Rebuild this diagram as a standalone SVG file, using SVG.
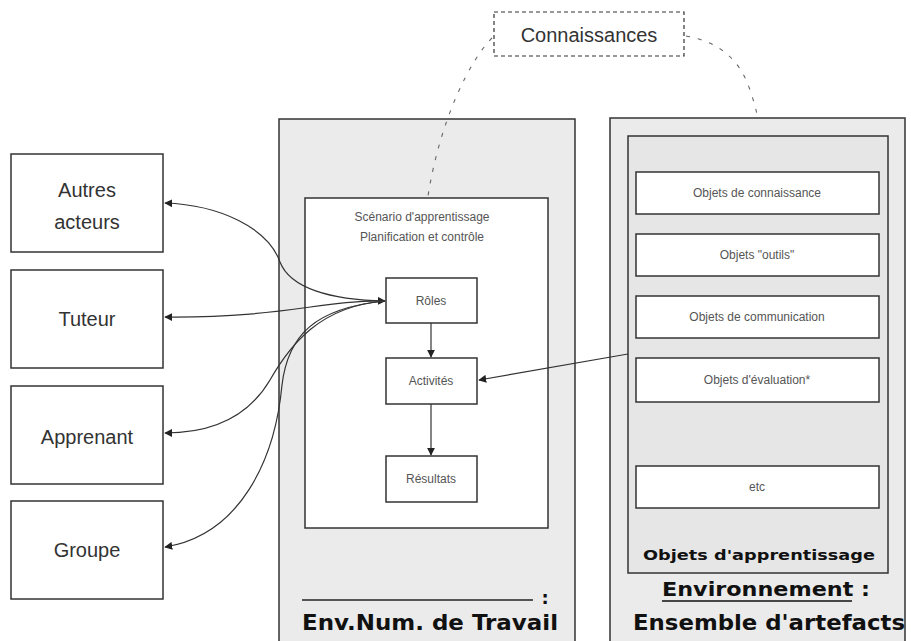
<svg xmlns="http://www.w3.org/2000/svg" width="911" height="641" viewBox="0 0 911 641">
<defs>
  <style>
    .box{fill:#fff;stroke:#333;stroke-width:1.5}
    .big{font-family:"Liberation Sans",Arial,sans-serif;font-size:20px;fill:#333;text-anchor:middle}
    .small{font-family:"Liberation Sans",Arial,sans-serif;font-size:12px;fill:#555;text-anchor:middle}
    .bold{font-family:"DejaVu Sans",Verdana,sans-serif;font-weight:bold;fill:#111;text-anchor:middle}
    .conn{fill:none;stroke:#333;stroke-width:1.2}
    .dash{fill:none;stroke:#666;stroke-width:1.1;stroke-dasharray:4 8}
  </style>
  <marker id="ah" viewBox="0 0 10 10" refX="9" refY="5" markerWidth="8" markerHeight="8" orient="auto-start-reverse" markerUnits="userSpaceOnUse">
    <path d="M0,0 L10,5 L0,10 z" fill="#222"/>
  </marker>
</defs>
<rect width="911" height="641" fill="#fff"/>

<g id="env-num">
  <rect x="279" y="119" width="296" height="530" fill="#ebebeb" stroke="#333" stroke-width="1.5"/>
  <line x1="302" y1="600" x2="533" y2="600" stroke="#222" stroke-width="1.5"/>
  <text x="545" y="604" class="bold" font-size="18">:</text>
  <text x="430" y="630" class="bold" font-size="22" textLength="256" lengthAdjust="spacingAndGlyphs">Env.Num. de Travail</text>
</g>

<g id="scenario">
  <rect x="305" y="198" width="243" height="330" class="box"/>
  <text x="422" y="221" class="small">Scénario d'apprentissage</text>
  <text x="422" y="241" class="small">Planification et contrôle</text>
</g>

<g id="roles"><rect x="386" y="278" width="91" height="45" class="box"/><text x="431" y="305" class="small">Rôles</text></g>
<g id="activites"><rect x="386" y="358" width="91" height="46" class="box"/><text x="431" y="385" class="small">Activités</text></g>
<g id="resultats"><rect x="386" y="456" width="91" height="46" class="box"/><text x="431" y="483" class="small">Résultats</text></g>

<g id="environnement">
  <rect x="610" y="118" width="295" height="531" fill="#ebebeb" stroke="#333" stroke-width="1.5"/>
  <rect x="628" y="136" width="260" height="437" fill="#e6e6e6" stroke="#333" stroke-width="1.5"/>
  <text x="759" y="560" class="bold" font-size="14" textLength="232" lengthAdjust="spacingAndGlyphs">Objets d'apprentissage</text>
  <text x="766" y="596" class="bold" font-size="20" textLength="208" lengthAdjust="spacingAndGlyphs">Environnement :</text>
  <line x1="662" y1="601" x2="852" y2="601" stroke="#111" stroke-width="1.5"/>
  <text x="769" y="630" class="bold" font-size="21" textLength="272" lengthAdjust="spacingAndGlyphs">Ensemble d'artefacts</text>
</g>

<g id="obj-connaissance"><rect x="636" y="172" width="243" height="42" class="box"/><text x="757" y="197" class="small">Objets de connaissance</text></g>
<g id="obj-outils"><rect x="636" y="234" width="243" height="42" class="box"/><text x="757" y="259" class="small">Objets "outils"</text></g>
<g id="obj-communication"><rect x="636" y="296" width="243" height="42" class="box"/><text x="757" y="321" class="small">Objets de communication</text></g>
<g id="obj-evaluation"><rect x="636" y="358" width="243" height="44" class="box"/><text x="757" y="384" class="small">Objets d'évaluation*</text></g>
<g id="obj-etc"><rect x="636" y="466" width="243" height="42" class="box"/><text x="757" y="491" class="small">etc</text></g>

<g id="connaissances">
  <rect x="494" y="12" width="190" height="44" fill="#fff" stroke="#333" stroke-width="1.2" stroke-dasharray="4 3"/>
  <text x="589" y="42" class="big" font-size="21">Connaissances</text>
</g>

<g id="autres"><rect x="11" y="154" width="152" height="98" class="box"/><text x="87" y="197" class="big">Autres</text><text x="87" y="229" class="big">acteurs</text></g>
<g id="tuteur"><rect x="11" y="270" width="152" height="98" class="box"/><text x="87" y="326" class="big">Tuteur</text></g>
<g id="apprenant"><rect x="11" y="386" width="152" height="98" class="box"/><text x="87" y="444" class="big">Apprenant</text></g>
<g id="groupe"><rect x="11" y="501" width="152" height="98" class="box"/><text x="87" y="557" class="big">Groupe</text></g>

<g id="connectors">
  <path class="dash" d="M492,38 C470,60 440,120 428,196"/>
  <path class="dash" d="M686,36 C720,42 740,60 750,90 C755,105 757,112 757,117"/>
  <path class="conn" d="M431,323 L431,357" marker-end="url(#ah)"/>
  <path class="conn" d="M431,404 L431,455" marker-end="url(#ah)"/>
  <path class="conn" d="M628,354 L479,380" marker-end="url(#ah)"/>
  <path class="conn" d="M385,301 C330,300 290,288 280,262 C268,228 220,205 165,203" marker-start="url(#ah)" marker-end="url(#ah)"/>
  <path class="conn" d="M385,301 C320,300 285,318 165,317" marker-end="url(#ah)"/>
  <path class="conn" d="M385,301 C320,306 290,345 270,380 C250,414 215,433 165,433" marker-end="url(#ah)"/>
  <path class="conn" d="M385,301 C315,308 288,335 282,385 C275,460 240,535 165,547" marker-end="url(#ah)"/>
</g>
</svg>
